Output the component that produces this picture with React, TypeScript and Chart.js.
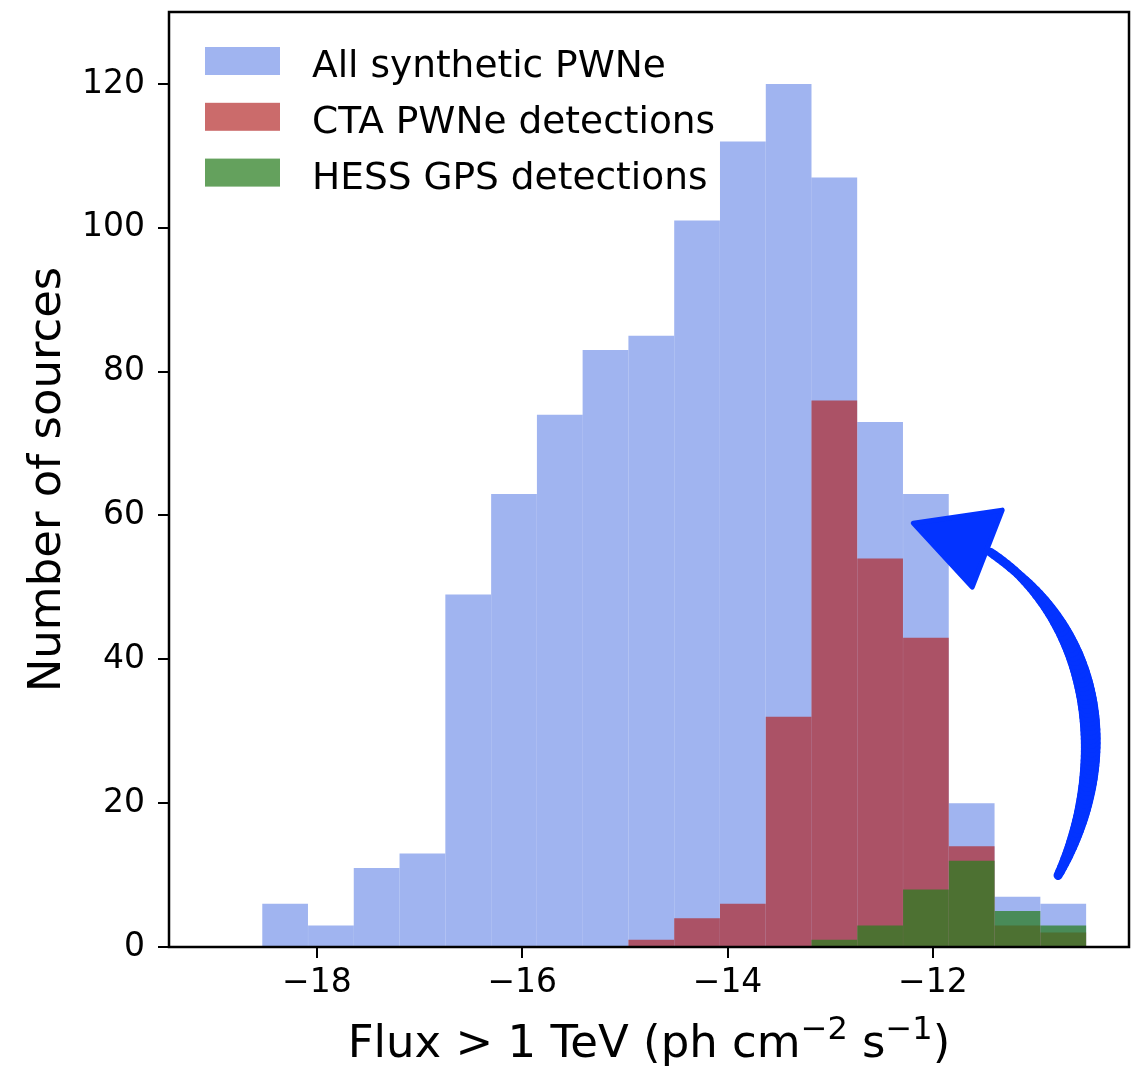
import React, { useEffect, useRef } from 'react';
import { Chart, registerables } from 'chart.js';

Chart.register(...registerables);

// Histogram bin centres (log10 flux, bin width ~0.446)
const binCenters = [
  -18.309, -17.863, -17.418, -16.972, -16.526, -16.080, -15.634, -15.189, -14.743,
  -14.297, -13.851, -13.405, -12.960, -12.514, -12.068, -11.622, -11.176, -10.730,
];
const allSynthetic = [6, 3, 11, 13, 49, 63, 74, 83, 85, 101, 112, 120, 107, 73, 63, 20, 7, 6];
const ctaDetections = [0, 0, 0, 0, 0, 0, 0, 0, 1, 4, 6, 32, 76, 54, 43, 14, 3, 2];
const hessDetections = [0, 0, 0, 0, 0, 0, 0, 0, 0, 0, 0, 0, 1, 3, 8, 12, 5, 3];

const seriesLabels = ['All synthetic PWNe', 'CTA PWNe detections', 'HESS GPS detections'];
const seriesColors = ['rgba(65,105,225,0.5)', 'rgba(178,34,34,0.67)', 'rgba(40,125,30,0.72)'];

const xRange = [-19.44, -10.09];
const yRange = [0, 130];

// Annotation arrow (data coordinates): cubic curve + triangular head
const arrowCurve = [[-10.78, 9.97], [-10.254, 24.58], [-10.322, 44.05], [-11.441, 54.9]];
const arrowHead = [[-12.191, 58.93], [-11.325, 60.74], [-11.617, 50.03]];

const FONT = 'DejaVu Sans';

const fmt = (v: number) => (v < 0 ? '\u2212' + Math.abs(v) : String(v));

const overlay = {
  id: 'overlay',
  afterDraw(chart: any) {
    const { ctx, chartArea: a } = chart;
    const xs = chart.scales.x;
    const ys = chart.scales.y;
    ctx.save();

    // arrow
    const pts = arrowCurve.map(([vx, vy]) => [xs.getPixelForValue(vx), ys.getPixelForValue(vy)]);
    const bez = (t: number) => {
      const u = 1 - t;
      const b0 = u * u * u, b1 = 3 * u * u * t, b2 = 3 * u * t * t, b3 = t * t * t;
      return [
        b0 * pts[0][0] + b1 * pts[1][0] + b2 * pts[2][0] + b3 * pts[3][0],
        b0 * pts[0][1] + b1 * pts[1][1] + b2 * pts[2][1] + b3 * pts[3][1],
      ];
    };
    const arrowColor = 'rgb(3,51,255)';
    ctx.strokeStyle = arrowColor;
    ctx.fillStyle = arrowColor;
    ctx.lineCap = 'round';
    const N = 80;
    for (let i = 0; i < N; i++) {
      const t0 = i / N, t1 = (i + 1) / N;
      const p0 = bez(t0), p1 = bez(t1);
      const tm = (t0 + t1) / 2;
      ctx.lineWidth = 9 + 11 * Math.sin(Math.PI * Math.min(1, tm * 1.1));
      ctx.beginPath();
      ctx.moveTo(p0[0], p0[1]);
      ctx.lineTo(p1[0], p1[1]);
      ctx.stroke();
    }
    const hp = arrowHead.map(([vx, vy]) => [xs.getPixelForValue(vx), ys.getPixelForValue(vy)]);
    ctx.lineJoin = 'round';
    ctx.lineWidth = 5;
    ctx.beginPath();
    ctx.moveTo(hp[0][0], hp[0][1]);
    ctx.lineTo(hp[1][0], hp[1][1]);
    ctx.lineTo(hp[2][0], hp[2][1]);
    ctx.closePath();
    ctx.fill();
    ctx.stroke();

    // frame
    ctx.strokeStyle = '#000';
    ctx.lineWidth = 2.5;
    ctx.lineJoin = 'miter';
    ctx.strokeRect(a.left, a.top, a.right - a.left, a.bottom - a.top);

    // legend
    ctx.font = `37.5px "${FONT}"`;
    ctx.textAlign = 'left';
    ctx.textBaseline = 'alphabetic';
    for (let i = 0; i < seriesLabels.length; i++) {
      const y0 = 47 + i * 55.8;
      ctx.fillStyle = seriesColors[i];
      ctx.fillRect(205, y0, 75, 28);
      ctx.fillStyle = '#000';
      ctx.fillText(seriesLabels[i], 312, y0 + 30);
    }

    // y title
    ctx.save();
    ctx.translate(60, (a.top + a.bottom) / 2);
    ctx.rotate(-Math.PI / 2);
    ctx.font = `45px "${FONT}"`;
    ctx.textAlign = 'center';
    ctx.fillStyle = '#000';
    ctx.fillText('Number of sources', 0, 0);
    ctx.restore();

    // x title with superscripts
    const pieces: [string, boolean][] = [
      ['Flux > 1 TeV (ph cm', false],
      ['\u22122', true],
      [' s', false],
      ['\u22121', true],
      [')', false],
    ];
    const mainF = `45px "${FONT}"`;
    const supF = `32px "${FONT}"`;
    let total = 0;
    const widths = pieces.map(([s, sup]) => {
      ctx.font = sup ? supF : mainF;
      const w = ctx.measureText(s).width;
      total += w;
      return w;
    });
    let cx = (a.left + a.right) / 2 - total / 2;
    const base = 1057;
    ctx.textAlign = 'left';
    ctx.fillStyle = '#000';
    pieces.forEach(([s, sup], i) => {
      ctx.font = sup ? supF : mainF;
      ctx.fillText(s, cx, sup ? base - 18 : base);
      cx += widths[i];
    });

    ctx.restore();
  },
};

export default function App() {
  const ref = useRef<HTMLCanvasElement | null>(null);
  useEffect(() => {
    if (!ref.current) return;
    Chart.defaults.font.family = FONT;
    const mk = (vals: number[]) => binCenters.map((x, i) => ({ x, y: vals[i] }));
    const chart = new Chart(ref.current, {
      type: 'bar',
      data: {
        datasets: [
          { label: seriesLabels[0], data: mk(allSynthetic), backgroundColor: seriesColors[0], order: 2 },
          { label: seriesLabels[1], data: mk(ctaDetections), backgroundColor: seriesColors[1], order: 1 },
          { label: seriesLabels[2], data: mk(hessDetections), backgroundColor: seriesColors[2], order: 0 },
        ] as any,
      },
      options: {
        animation: false,
        responsive: false,
        devicePixelRatio: 1,
        datasets: { bar: { grouped: false, barPercentage: 1, categoryPercentage: 1, borderWidth: 0, inflateAmount: 0 } },
        layout: { padding: { top: 12, right: 12, left: 0, bottom: 0 } },
        plugins: { legend: { display: false }, tooltip: { enabled: false } },
        scales: {
          x: {
            type: 'linear',
            offset: false,
            min: xRange[0],
            max: xRange[1],
            afterFit: (s: any) => { s.height = 121; s.paddingLeft = 0; s.paddingRight = 0; },
            border: { display: false },
            grid: { offset: false, drawOnChartArea: false, drawTicks: true, tickLength: 11, color: '#000', lineWidth: 2 },
            ticks: {
              stepSize: 2,
              includeBounds: false,
              color: '#000',
              padding: 6,
              maxRotation: 0,
              font: { size: 33, family: FONT },
              callback: (v: any) => fmt(Number(v)),
            },
          },
          y: {
            min: yRange[0],
            max: yRange[1],
            afterFit: (s: any) => { s.width = 169; s.paddingTop = 0; s.paddingBottom = 0; },
            border: { display: false },
            grid: { drawOnChartArea: false, drawTicks: true, tickLength: 11, color: '#000', lineWidth: 2 },
            ticks: {
              stepSize: 20,
              includeBounds: false,
              color: '#000',
              padding: 13,
              font: { size: 33, family: FONT },
              callback: (v: any) => fmt(Number(v)),
            },
          },
        },
      } as any,
      plugins: [overlay],
    });
    return () => chart.destroy();
  }, []);
  return (
    <div style={{ position: 'fixed', left: 0, top: 0, width: 1141, height: 1068, background: '#fff' }}>
      <canvas ref={ref} width={1141} height={1068} />
    </div>
  );
}
